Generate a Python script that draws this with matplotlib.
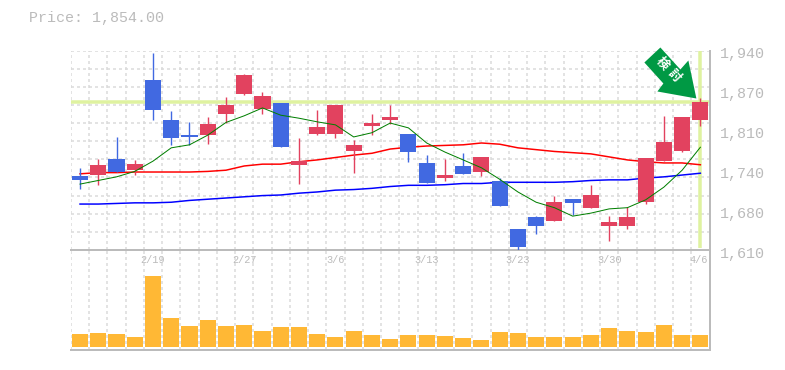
#!/usr/bin/env python3
import matplotlib

matplotlib.use("Agg")

import matplotlib.pyplot as plt
import numpy as np
from matplotlib.patches import Polygon
from matplotlib.transforms import IdentityTransform

W, H = 785, 370
DPI = 100

GREY = "#bbbbbb"
GRID = "#dadada"
UP = "#e2425f"
DOWN = "#4169e1"
HILITE = "#dff2a0"

price_label = "Price: 1,854.00"
last_close = 1854

# one entry per trading day, True = up (red)
is_up = [0, 1, 0, 1, 0, 0, 0, 1, 1, 1, 1, 0, 1, 1, 1, 1, 1, 1,
         0, 0, 1, 0, 1, 0, 0, 0, 1, 0, 1, 1, 1, 1, 1, 1, 1]
body_top = [1733, 1751, 1761, 1752, 1891, 1825, 1800, 1818, 1850, 1899, 1865, 1853, 1757, 1813, 1850,
            1784, 1820, 1830, 1802, 1754, 1734, 1749, 1764, 1724, 1645, 1665, 1689, 1694, 1701,
            1656, 1665, 1762, 1789, 1830, 1855]
body_bot = [1726, 1734, 1739, 1742, 1842, 1796, 1797, 1800, 1835, 1868, 1843, 1781, 1751, 1802, 1802,
            1774, 1815, 1825, 1772, 1721, 1729, 1736, 1739, 1683, 1615, 1650, 1658, 1688, 1680,
            1650, 1650, 1689, 1757, 1774, 1825]
wick_top = [1746, 1761, 1797, 1759, 1936, 1840, 1822, 1830, 1863, 1901, 1871, 1853, 1795, 1842, 1850,
            1792, 1835, 1850, 1802, 1767, 1761, 1770, 1764, 1729, 1645, 1666, 1699, 1694, 1718,
            1666, 1681, 1762, 1832, 1830, 1861]
wick_bot = [1711, 1718, 1739, 1734, 1825, 1783, 1783, 1785, 1820, 1866, 1835, 1781, 1719, 1800, 1795,
            1737, 1800, 1818, 1756, 1721, 1724, 1736, 1732, 1683, 1610, 1636, 1658, 1668, 1680,
            1625, 1645, 1686, 1757, 1772, 1815]

ma_short = [1719, 1725, 1731, 1740, 1757, 1779, 1784, 1800, 1821, 1832, 1845, 1833, 1828, 1822, 1817,
            1797, 1804, 1820, 1812, 1787, 1772, 1759, 1746, 1727, 1706, 1689, 1680, 1666, 1671,
            1678, 1680, 1693, 1714, 1742, 1780]
ma_mid = [1736, 1738, 1738, 1739, 1739, 1739, 1739, 1740, 1742, 1749, 1752, 1752, 1756, 1759, 1763,
          1767, 1770, 1777, 1780, 1782, 1783, 1784, 1787, 1785, 1779, 1776, 1773, 1771, 1769,
          1764, 1759, 1756, 1754, 1754, 1751]
ma_long = [1686, 1686, 1687, 1688, 1688, 1689, 1692, 1694, 1696, 1698, 1700, 1701, 1704, 1706, 1709,
           1710, 1712, 1715, 1717, 1717, 1718, 1720, 1720, 1722, 1722, 1722, 1722, 1723, 1725,
           1726, 1726, 1729, 1731, 1734, 1737]

volume = [13, 14, 13, 10, 71, 29, 21, 27, 21, 22, 16, 20, 20, 13, 10, 16, 12, 8,
          12, 12, 11, 9, 7, 15, 14, 10, 10, 10, 12, 19, 16, 15, 22, 12, 12]

date_idx = [4, 9, 14, 19, 24, 29, 34]
date_labels = ["2/19", "2/27", "3/6", "3/13", "3/23", "3/30", "4/6"]

price_ticks = [1940, 1874, 1808, 1742, 1676, 1610]
price_tick_labels = ["1,940", "1,870", "1,810", "1,740", "1,680", "1,610"]

# badge outline, px relative to the last candle's close (y up)
badge_px = [(-40, 55), (-56, 40), (-37, 19), (-43, 11), (-4, 4), (-12, 42), (-20, 33)]


def rect(x0, y_top, x1, y_bot):
    return [x0 / W, 1 - y_bot / H, (x1 - x0) / W, (y_bot - y_top) / H]


plt.rcParams["font.family"] = ["Liberation Mono", "DejaVu Sans Mono"]

fig = plt.figure(figsize=(W / DPI, H / DPI), dpi=DPI)
ax_vol = fig.add_axes(rect(70.9, 250, 709.5, 350))
ax = fig.add_axes(rect(70.9, 50.5, 709.5, 250))

x = np.arange(len(body_top))
px = 72 / DPI

for a in (ax, ax_vol):
    a.set_xlim(-0.5, len(x) - 0.5)
    a.set_xticks(x[:-1] + 0.5)
    a.set_xticks([-0.5], minor=True)
    a.tick_params(which="both", length=0, labelbottom=False, labelleft=False)
    a.grid(True, axis="x", which="both", color=GRID, lw=1.5 * px, ls=(0, (2, 2)))
    a.set_axisbelow(True)
    a.spines["left"].set_visible(False)
    a.spines["top"].set_visible(False)
    a.spines["right"].set_color(GREY)
    a.spines["right"].set_linewidth(2 * px)
    a.spines["bottom"].set_color(GREY)
    a.spines["bottom"].set_linewidth(2 * px)

ax.patch.set_alpha(0)
ax.set_ylim(price_ticks[-1], price_ticks[0])
ax.set_yticks(np.arange(price_ticks[-1] + 30, price_ticks[0] + 1, 30))
ax.grid(True, axis="y", color=GRID, lw=1.5 * px, ls=(0, (2, 2)))

ax_vol.set_ylim(-3, 97)

# highlight of the latest day and price
ax.axhline(last_close, color=HILITE, lw=3.5 * px, zorder=1.5)
ax.plot([x[-1], x[-1]], [price_ticks[-1] + 4, price_ticks[0]], color=HILITE, lw=3.5 * px,
        zorder=1.5, solid_capstyle="butt")

ax.plot(x, ma_long, color="#0000ff", lw=1.5 * px, zorder=2)
ax.plot(x, ma_mid, color="#ff0000", lw=1.5 * px, zorder=2)

colors = [UP if u else DOWN for u in is_up]
ax.vlines(x, wick_bot, wick_top, colors=colors, lw=1.4 * px, zorder=3)
ax.bar(x, np.array(body_top) - np.array(body_bot), bottom=body_bot, width=0.88, color=colors,
       linewidth=0, zorder=3)
ax.plot(x, ma_short, color="#007f00", lw=1.0 * px, zorder=4)

ax_vol.bar(x, volume, width=0.88, color="#ffb835", linewidth=0, zorder=3)

for value, label in zip(price_ticks, price_tick_labels):
    ax.annotate(label, xy=(1, value), xycoords=("axes fraction", "data"), xytext=(10 * px, -3.5 * px),
                textcoords="offset points", ha="left", va="center", fontsize=10.8, color=GREY,
                annotation_clip=False)

for i, label in zip(date_idx, date_labels):
    ha_shift = -2 if i == date_idx[-1] else 0
    ax.annotate(label, xy=(i, 0), xycoords=("data", "axes fraction"),
                xytext=(ha_shift * px, -10 * px), textcoords="offset points", ha="center",
                va="center", fontsize=7.4, color=GREY, annotation_clip=False)

fig.text(29 / W, 1 - 18 / H, price_label, fontsize=10.8, color=GREY, ha="left", va="center")

# green badge pointing at the last candle
anchor = ax.transData.transform((x[-1], last_close))
badge = Polygon(anchor + np.array(badge_px), closed=True, facecolor="#009944", edgecolor="none",
                transform=IdentityTransform(), zorder=6, clip_on=False)
ax.add_patch(badge)
for ch, dx, dy in (("検", -38, 39), ("討", -26, 27)):
    ax.annotate(ch, xy=(x[-1], last_close), xycoords="data", xytext=(dx * px, dy * px),
                textcoords="offset points", ha="center", va="center", rotation=-48, fontsize=9,
                fontweight="bold", color="white", family=["Noto Sans CJK JP", "DejaVu Sans"],
                zorder=7, annotation_clip=False)

fig.savefig("out.png", dpi=DPI)
plt.close(fig)
